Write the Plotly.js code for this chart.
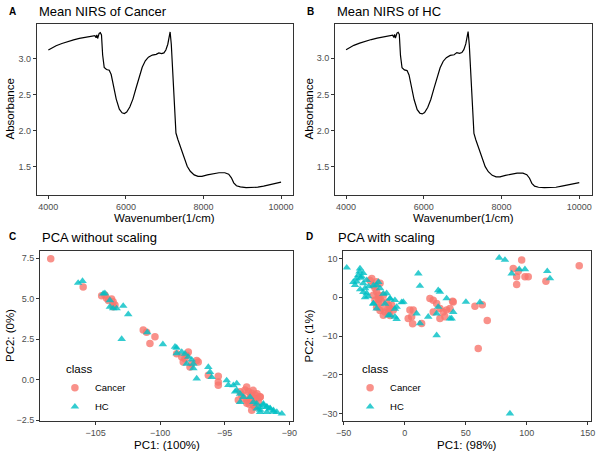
<!DOCTYPE html>
<html><head><meta charset="utf-8">
<script src="https://cdn.plot.ly/plotly-3.0.1.min.js"></script>
<style>html,body{margin:0;padding:0;background:#fff}#chart{width:600px;height:454px}</style>
</head><body><div id="chart"></div>
<script>
// Mean NIRS spectra
var wavenumber = [4000,4100,4200,4350,4500,4650,4800,4950,5050,5100,5150,5200,5230,5250,5270,5290,5310,5340,5370,5400,5440,5500,5570,5620,5680,5750,5830,5900,5960,6020,6100,6180,6260,6340,6420,6500,6580,6680,6780,6850,6920,6980,7030,7080,7110,7140,7170,7200,7230,7260,7290,7340,7420,7500,7580,7660,7760,7860,7960,8100,8250,8400,8550,8650,8720,8780,8850,8950,9100,9250,9400,9550,9700,9850,10000];
var absCancer = [3.12,3.15,3.18,3.21,3.24,3.26,3.28,3.295,3.30,3.31,3.31,3.32,3.29,3.33,3.28,3.34,3.35,3.36,3.33,3.05,2.88,2.85,2.84,2.78,2.62,2.44,2.30,2.25,2.24,2.26,2.33,2.44,2.59,2.75,2.88,2.97,3.02,3.05,3.06,3.08,3.07,3.08,3.12,3.20,3.30,3.37,3.20,2.85,2.45,2.15,1.97,1.88,1.76,1.62,1.51,1.44,1.39,1.37,1.37,1.39,1.41,1.42,1.42,1.40,1.35,1.28,1.24,1.225,1.215,1.215,1.22,1.235,1.25,1.27,1.29];
var absHC = [3.12,3.15,3.18,3.21,3.24,3.26,3.28,3.295,3.30,3.31,3.31,3.32,3.29,3.33,3.28,3.34,3.35,3.36,3.33,3.04,2.87,2.84,2.83,2.77,2.61,2.43,2.29,2.24,2.23,2.25,2.32,2.43,2.58,2.74,2.87,2.96,3.01,3.04,3.05,3.08,3.07,3.08,3.12,3.20,3.30,3.37,3.19,2.84,2.44,2.14,1.96,1.87,1.75,1.61,1.50,1.43,1.38,1.36,1.36,1.38,1.40,1.41,1.41,1.39,1.34,1.27,1.23,1.215,1.21,1.21,1.215,1.23,1.245,1.265,1.28];

// PCA without scaling
var cancerC_pc1 = [-108.47,-105.96,-104.53,-104.28,-104.15,-103.76,-103.64,-103.5,-103.64,-104.0,-101.31,-101.05,-100.4,-100.79,-98.72,-98.33,-98.08,-97.95,-97.82,-98.21,-97.56,-97.17,-97.05,-97.69,-96.27,-95.5,-95.5,-95.5,-93.81,-93.95,-93.43,-93.17,-92.91,-92.65,-92.52,-93.04,-93.29,-92.78,-92.39,-93.68,-93.56,-92.26,-93.29,-92.91,-92.65,-93.3,-92.8,-92.5,-92.26,-93.0,-92.7,-93.1];
var cancerC_pc2 = [7.48,5.73,5.19,5.23,5.03,4.99,4.82,4.62,4.51,4.9,3.07,2.93,2.66,2.25,1.61,1.41,1.30,1.51,1.72,1.10,1.0,1.20,1.10,0.79,0.28,0.22,-0.14,-0.34,-0.73,-1.25,-0.63,-0.73,-0.83,-0.94,-1.14,-1.25,-1.45,-1.56,-1.35,-0.94,-1.14,-1.04,-1.27,-1.88,-1.68,-0.44,-0.65,-0.86,-1.06,-1.0,-1.2,-1.5];
var hcC_pc1 = [-106.35,-106.01,-104.28,-104.41,-103.89,-103.37,-102.86,-102.47,-102.98,-103.89,-103.64,-101.0,-99.79,-98.72,-98.33,-98.08,-97.82,-97.56,-97.43,-97.95,-97.17,-98.85,-98.72,-97.43,-96.27,-96.14,-96.01,-94.85,-94.33,-94.07,-93.81,-93.56,-93.81,-94.72,-94.07,-94.2,-92.52,-92.26,-92.01,-91.74,-91.49,-91.23,-92.26,-91.74,-92.52,-90.97,-90.58,-93.04,-92.78,-92.01,-91.74,-91.49,-92.26,-91.23];
var hcC_pc2 = [5.98,6.10,5.34,5.32,4.91,4.41,4.56,4.04,2.52,4.51,4.41,2.93,2.19,1.98,1.72,1.61,1.41,1.24,0.99,0.99,0.08,2.04,1.64,0.71,0.79,0.48,0.16,-0.04,-0.34,-0.65,-0.86,-1.06,-1.37,-0.32,-0.22,-0.73,-1.48,-1.68,-1.48,-1.68,-1.78,-1.88,-1.99,-1.99,-1.78,-1.99,-2.09,-1.06,-1.37,-1.56,-1.66,-1.76,-1.86,-1.97];

// PCA with scaling
var cancerD_pc1 = [95.9,89.0,91.8,93.1,98.6,101.3,91.8,115.8,143.1,39.3,57.6,63.6,67.7,60.3,20.7,23.4,26.2,28.9,31.6,34.4,37.1,39.8,28.9,33.0,23.4,4.3,7.0,5.7,2.9,13.9,-27.0,-25.7,-24.3,-23.0,-21.6,-20.2,-17.5,-18.9,-14.8,-13.4,-12.0,-16.1,-18.9,-21.6,-24.3,-25.7,-23.0,-20.2,-13.4,-9.3,-10.7,-17.5,-28.4,-21.6,-23.0,-20.2,-13.4,-12.0,6.5];
var cancerD_pc2 = [9.56,7.4,5.3,6.7,5.3,5.3,3.3,4.15,8.1,-1.0,-2.3,-1.9,-6.0,-13.2,-0.3,-0.75,-1.6,-2.9,-3.8,-3.3,-2.9,-1.2,-5.5,-5.05,-3.8,-3.3,-3.3,-5.05,-5.5,-6.75,4.85,3.1,2.3,1.4,0.5,-0.3,0.5,-1.2,-1.2,-2.0,-2.9,-3.8,-2.9,-1.6,-0.75,0.5,4.0,3.6,-3.8,-3.3,-2.0,-4.6,4.3,-0.4,-2.55,-3.4,-3.0,-4.7,-6.8];
var hcD_pc1 = [-47.5,-36.6,-38.0,-35.2,-39.3,-40.7,-33.9,-31.1,-32.5,-31.1,-23.0,-20.2,-14.8,-12.0,-8.0,-1.1,-6.6,-25.7,-23.0,-12.0,-8.0,11.2,12.5,9.8,12.5,19.3,26.2,27.5,28.9,34.4,27.5,26.2,37.1,39.8,50.2,61.7,38.5,77.5,82.2,87.7,93.9,98.6,116.9,119.1,86.3,-42.1,-33.9,-32.5,-25.7,-21.6,-17.5,-12.0,-16.1,-8.0,-25.7,-6.6,-2.5,-13.4,-37.0,-36.0,-39.5,-34.0,-29.5,-36.5,-30.0];
var hcD_pc2 = [7.6,7.4,5.7,5.3,4.0,3.1,3.6,4.4,2.3,1.0,3.1,2.3,1.0,-0.3,-0.75,-1.2,-2.5,-1.6,-2.9,-4.6,-5.05,6.1,2.9,-4.2,-6.75,-5.05,-9.8,1.8,1.4,-0.3,-2.5,-4.2,-5.5,-3.8,-1.2,-1.3,-5.5,10.15,9.6,6.1,7.2,7.2,6.7,4.85,-29.95,3.9,1.3,0.0,3.0,3.9,0.9,-0.4,-1.7,-3.0,-1.7,-5.6,-1.3,-4.7,6.6,5.0,4.8,6.2,2.8,2.0,0.2];

var cancerCol = '#F8766D', hcCol = '#00BFC4';
var FONT = 'Liberation Sans, Arial, Helvetica, sans-serif';

function lineTrace(x, y, xa, ya) {
  return {x: x, y: y, xaxis: xa, yaxis: ya, type: 'scatter', mode: 'lines',
    line: {color: '#000', width: 1.2}, showlegend: false, hoverinfo: 'skip'};
}
function pts(x, y, xa, ya, name, col, sym, leg) {
  return {x: x, y: y, xaxis: xa, yaxis: ya, type: 'scatter', mode: 'markers', name: name,
    legend: leg, marker: {color: col, symbol: sym, size: 7.5, opacity: 0.8, line: {width: 0}}};
}

var data = [
  lineTrace(wavenumber, absCancer, 'x', 'y'),
  lineTrace(wavenumber, absHC, 'x2', 'y2'),
  pts(cancerC_pc1, cancerC_pc2, 'x3', 'y3', 'Cancer', cancerCol, 'circle', 'legend'),
  pts(hcC_pc1, hcC_pc2, 'x3', 'y3', 'HC', hcCol, 'triangle-up', 'legend'),
  pts(cancerD_pc1, cancerD_pc2, 'x4', 'y4', 'Cancer', cancerCol, 'circle', 'legend2'),
  pts(hcD_pc1, hcD_pc2, 'x4', 'y4', 'HC', hcCol, 'triangle-up', 'legend2')
];

function ax(domain, anchor, range, tickvals, fmt) {
  return {domain: domain, anchor: anchor, range: range, tickvals: tickvals, tickformat: fmt,
    showline: true, mirror: true, linecolor: '#333', linewidth: 1, ticks: 'outside', ticklen: 3,
    tickcolor: '#333', tickwidth: 1, showgrid: false, zeroline: false,
    tickfont: {size: 9, color: '#4d4d4d', family: FONT}};
}

var legendStyle = function (x) {
  return {x: x, y: 0.178, xanchor: 'left', yanchor: 'top', bgcolor: 'rgba(0,0,0,0)',
    font: {size: 9.5, color: '#000', family: FONT}, tracegroupgap: 0};
};

var layout = {
  width: 600, height: 454, margin: {l: 0, r: 0, t: 0, b: 0},
  paper_bgcolor: '#fff', plot_bgcolor: '#fff', font: {family: FONT},
  xaxis: ax([0.0612, 0.4878], 'y', [3700, 10300], [4000, 6000, 8000, 10000], 'd'),
  yaxis: ax([0.5705, 0.9471], 'x', [1.112, 3.48], [1.5, 2.0, 2.5, 3.0], '.1f'),
  xaxis2: ax([0.5583, 0.9862], 'y2', [3715, 10320], [4000, 6000, 8000, 10000], 'd'),
  yaxis2: ax([0.5705, 0.9471], 'x2', [1.108, 3.475], [1.5, 2.0, 2.5, 3.0], '.1f'),
  xaxis3: ax([0.0667, 0.4878], 'y3', [-109.3, -89.74], [-105, -100, -95, -90], ''),
  yaxis3: ax([0.072, 0.4471], 'x3', [-2.56, 7.95], [-2.5, 0, 2.5, 5, 7.5], '.1f'),
  xaxis4: ax([0.5722, 0.9845], 'y4', [-50.3, 152.5], [-50, 0, 50, 100, 150], ''),
  yaxis4: ax([0.0727, 0.4471], 'x4', [-31.85, 11.9], [-30, -20, -10, 0, 10], ''),
  legend: legendStyle(0.0915),
  legend2: legendStyle(0.5835),
  annotations: [
    {text: '<b>A</b>', x: 7, y: 12},
    {text: 'Mean NIRS of Cancer', x: 37, y: 12, size: 13},
    {text: '<b>B</b>', x: 305, y: 12},
    {text: 'Mean NIRS of HC', x: 335, y: 12, size: 13},
    {text: '<b>C</b>', x: 7, y: 237},
    {text: 'PCA without scaling', x: 40, y: 238, size: 13},
    {text: '<b>D</b>', x: 304, y: 237},
    {text: 'PCA with scaling', x: 335.5, y: 238, size: 13},
    {text: 'class', x: 64, y: 369, size: 11.5},
    {text: 'class', x: 360, y: 369, size: 11.5},
    {text: 'Wavenumber(1/cm)', x: 164.7, y: 218, size: 11.5, c: 1},
    {text: 'Wavenumber(1/cm)', x: 463.3, y: 218, size: 11.5, c: 1},
    {text: 'PC1: (100%)', x: 166.5, y: 445, size: 11.5, c: 1},
    {text: 'PC1: (98%)', x: 467, y: 445, size: 11.5, c: 1},
    {text: 'Absorbance', x: 10, y: 109.5, size: 11.5, c: 1, r: 1},
    {text: 'Absorbance', x: 309, y: 109.5, size: 11.5, c: 1, r: 1},
    {text: 'PC2: (0%)', x: 10, y: 336, size: 11.5, c: 1, r: 1},
    {text: 'PC2: (1%)', x: 308.5, y: 336, size: 11.5, c: 1, r: 1}
  ].map(function (a) {
    return {text: a.text, x: a.x / 600, y: 1 - a.y / 454, xref: 'paper', yref: 'paper',
      xanchor: a.c ? 'center' : 'left', yanchor: 'middle', textangle: a.r ? -90 : 0,
      showarrow: false, font: {size: a.size || 10, color: '#000', family: FONT}};
  })
};

Plotly.newPlot('chart', data, layout, {staticPlot: true, displayModeBar: false});
</script></body></html>
